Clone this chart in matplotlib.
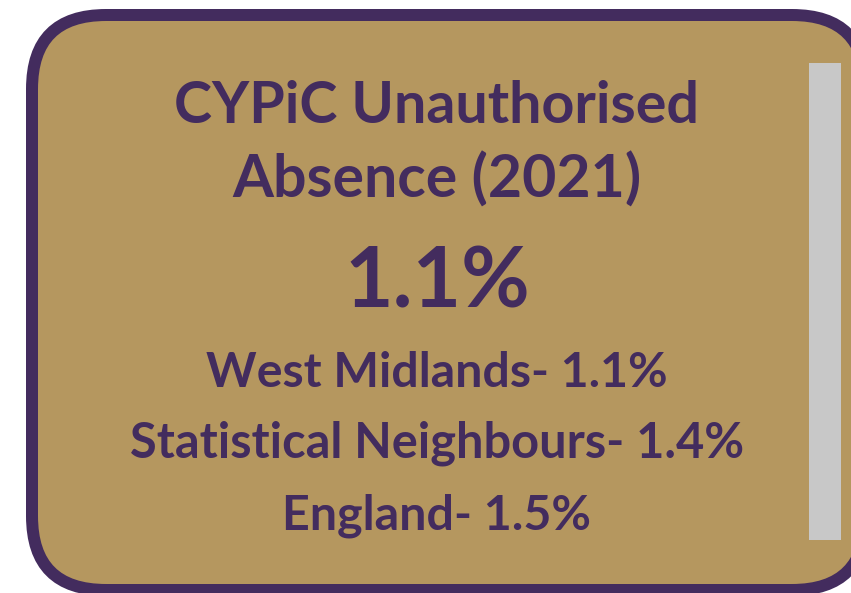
import matplotlib
matplotlib.use("Agg")
import matplotlib.pyplot as plt
from matplotlib.patches import FancyBboxPatch, Rectangle

# card content
title_lines = ["CYPiC Unauthorised", "Absence (2021)"]
headline = 1.1
areas = ["West Midlands", "Statistical Neighbours", "England"]
rates = [1.1, 1.4, 1.5]

purple = "#432C5E"
gold = "#B5975F"
grey = "#C8C8C8"

W, H = 851, 593
fig = plt.figure(figsize=(W / 100, H / 100), dpi=100)
ax = fig.add_axes([0, 0, 1, 1])
ax.set_xlim(0, W)
ax.set_ylim(H, 0)
ax.axis("off")

# rounded card, border 12px
card = FancyBboxPatch((32, 15), 834, 575,
                      boxstyle="round,pad=0,rounding_size=74",
                      fc=gold, ec=purple, lw=12 * 0.72)
ax.add_patch(card)
ax.add_patch(Rectangle((809, 63), 32, 477, fc=grey, ec="none"))

lines = title_lines + ["%.1f%%" % headline] + \
    ["%s- %.1f%%" % (a, r) for a, r in zip(areas, rates)]
baselines = [123, 198, 307, 387, 458, 530]
widths = [525, 408, 185, 461, 614, 308]

texts = []
for s, y in zip(lines, baselines):
    t = ax.text(437, y, s, ha="center", va="baseline", fontsize=30,
                family="Lato", weight="bold", color=purple)
    texts.append(t)

# fit each line to the width in the reference
r = fig.canvas.get_renderer()
for t, w in zip(texts, widths):
    cur = t.get_window_extent(r).width
    t.set_fontsize(30 * w / cur)

fig.savefig("out.png", dpi=100)
